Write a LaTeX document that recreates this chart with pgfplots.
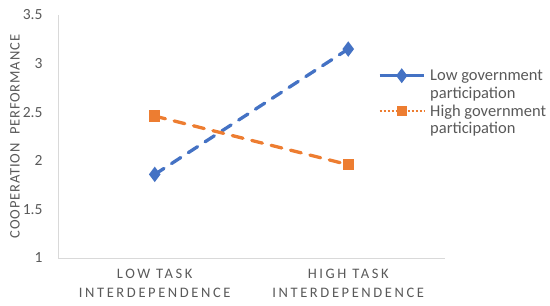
\documentclass[border=0pt]{standalone}
\usepackage{pgfplots}
\pgfplotsset{compat=1.18}
\usepackage{fontspec}
\setmainfont{Carlito}
\newfontfamily\spaced[LetterSpace=18]{Carlito}
\newfontfamily\yspaced[LetterSpace=6]{Carlito}
\definecolor{cblue}{RGB}{68,114,196}
\definecolor{corange}{RGB}{237,125,49}
\definecolor{txtgray}{RGB}{89,89,89}
\definecolor{axgray}{RGB}{217,217,217}
\begin{document}
\begin{tikzpicture}
\useasboundingbox (-58bp,-48bp) rectangle (492bp,258bp);
\begin{axis}[
  scale only axis,
  width=387bp, height=243bp,
  at={(0,0)}, anchor=south west,
  xmin=-0.5, xmax=1.5,
  ymin=1, ymax=3.5,
  ytick={1,1.5,2,2.5,3,3.5},
  xtick={0,1},
  xticklabels={{LOW TASK\\INTERDEPENDENCE},{HIGH TASK\\INTERDEPENDENCE}},
  xticklabel style={align=center, font=\fontsize{14.5bp}{19bp}\spaced, text=txtgray, yshift=-8bp},
  yticklabel style={font=\fontsize{15.5bp}{17bp}\selectfont, text=txtgray, xshift=-12bp},
  /pgf/number format/assume math mode=true,
  major tick length=0pt,
  axis x line*=bottom,
  axis y line*=left,
  axis line style={axgray, line width=1bp, -},
  ylabel={COOPERATION\ \ PERFORMANCE},
  ylabel style={font=\fontsize{14.5bp}{17bp}\yspaced, text=txtgray, at={(rel axis cs:0,0.5)}, anchor=center, yshift=43bp},
  legend style={at={(rel axis cs:0.827,0.787)}, anchor=north west, draw=none, fill=none,
    font=\fontsize{16.5bp}{18bp}\selectfont, text=txtgray,
    cells={anchor=west, text height=12bp, text depth=4bp}, row sep=0.2bp, inner sep=0pt,
    /tikz/every odd column/.append style={column sep=3bp}},
  legend cell align=left,
  legend image code/.code={\draw[mark repeat=2,mark phase=2,#1] plot coordinates {(0bp,0bp) (22bp,0bp) (44bp,0bp)};},
]
\addplot[cblue, line width=3.3bp, dash pattern=on 11bp off 9bp, line cap=round,
  mark=diamond*, mark size=5bp, mark options={solid}, forget plot]
  coordinates {(0,1.86) (1,3.15)};
\addplot[corange, line width=3.3bp, dash pattern=on 11bp off 9bp, line cap=round,
  mark=square*, mark size=4bp, mark options={solid}, forget plot]
  coordinates {(0,2.46) (1,1.96)};
\addlegendimage{cblue, line width=3bp, solid, mark=diamond*, mark size=5bp}
\addlegendentry{Low government}
\addlegendimage{empty legend}
\addlegendentry{participation}
\addlegendimage{corange, line width=2bp, dotted, mark=square*, mark size=4bp, mark options={solid}}
\addlegendentry{High government}
\addlegendimage{empty legend}
\addlegendentry{participation}
\end{axis}
\end{tikzpicture}
\end{document}
